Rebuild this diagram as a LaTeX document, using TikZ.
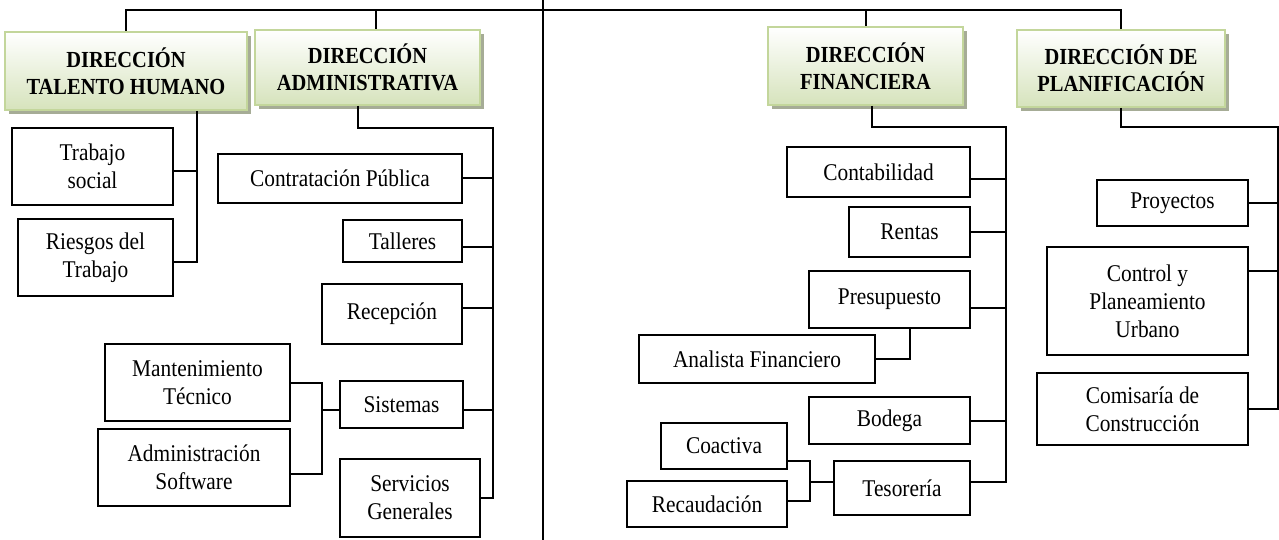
\documentclass[tikz,border=0pt]{standalone}
\usepackage{fontspec}
\setmainfont{Liberation Serif}[FakeStretch=0.89]
\usepackage{tikz}
\usetikzlibrary{shadows}
\definecolor{headline}{RGB}{195,214,155}
\definecolor{headfill}{RGB}{214,227,188}
\definecolor{headshadow}{RGB}{166,172,150}
\tikzset{%
    direccion/.style={
      rectangle,
      draw=headline,
      line width=2pt,
      top color=white,
      bottom color=headfill,
      drop shadow={shadow xshift=4pt, shadow yshift=-4pt, fill=headshadow, opacity=1},
      align=center,
      inner sep=0pt,
      font=\fontsize{23}{27}\selectfont\bfseries
    },
    unidad/.style={
      rectangle,
      draw,
      line width=2pt,
      fill=white,
      align=center,
      inner sep=0pt,
      font=\fontsize{24}{28}\selectfont
    },
    enlace/.style={
      line width=2pt
    }
  }

\begin{document}
\begin{tikzpicture}[x=1pt, y=-1pt]
      \useasboundingbox (0,0) rectangle (1279,540);

      \node [direccion, minimum width=242, minimum height=78] (tal) at (126,71) {DIRECCIÓN\\TALENTO HUMANO};
      \node [direccion, minimum width=225, minimum height=75] (adm) at (367.5,67.5) {DIRECCIÓN\\ADMINISTRATIVA};
      \node [direccion, minimum width=195, minimum height=78] (fin) at (865.5,66) {DIRECCIÓN\\FINANCIERA};
      \node [direccion, minimum width=208, minimum height=77] (pla) at (1121,68.5) {DIRECCIÓN DE\\PLANIFICACIÓN};

      \node [unidad, minimum width=161, minimum height=77] (trab) at (92.5,166.5) {Trabajo\\social};
      \node [unidad, minimum width=155, minimum height=77] (ries) at (95.5,257.5) {Riesgos del\\Trabajo};

      \node [unidad, minimum width=244, minimum height=49] (contr) at (340,178.5) {Contratación Pública};
      \node [unidad, minimum width=119, minimum height=42] (tall) at (402.5,241) {Talleres};
      \node [unidad, minimum width=140, minimum height=60] (rec) at (392,314) {Recepción};
      \node [unidad, minimum width=123, minimum height=47] (sis) at (401.5,404.5) {Sistemas};
      \node [unidad, minimum width=140, minimum height=78] (serv) at (410,498) {Servicios\\Generales};
      \node [unidad, minimum width=185, minimum height=77] (mant) at (197.5,382.5) {Mantenimiento\\Técnico};
      \node [unidad, minimum width=192, minimum height=77] (asoft) at (194,467.5) {Administración\\Software};

      \node [unidad, minimum width=183, minimum height=50] (cont) at (878.5,172) {Contabilidad};
      \node [unidad, minimum width=121, minimum height=50] (rent) at (909.5,232) {Rentas};
      \node [unidad, minimum width=161, minimum height=57] (pres) at (889.5,299.5) {Presupuesto};
      \node [unidad, minimum width=236, minimum height=48] (anal) at (757,359) {Analista Financiero};
      \node [unidad, minimum width=161, minimum height=47] (bod) at (889.5,420.5) {Bodega};
      \node [unidad, minimum width=136, minimum height=54] (tes) at (902,488) {Tesorería};
      \node [unidad, minimum width=126, minimum height=46] (coac) at (724,446) {Coactiva};
      \node [unidad, minimum width=160, minimum height=46] (reca) at (707,504) {Recaudación};

      \node [unidad, minimum width=151, minimum height=46] (proy) at (1172.5,203) {Proyectos};
      \node [unidad, minimum width=201, minimum height=108] (ctrl) at (1147.5,301) {Control y\\Planeamiento\\Urbano};
      \node [unidad, minimum width=211, minimum height=72] (comi) at (1142.5,409) {Comisaría de\\Construcción};

      \coordinate (raiz a) at (543,0);
      \coordinate (raiz b) at (543,540);
      \coordinate (bus) at (0,10);
      \coordinate (adm top) at (376,10);
      \draw [enlace] (raiz a) -- (raiz b);
      \draw [enlace] (tal.north) |- (bus -| pla.north) -- (pla.north);
      \draw [enlace] (adm top) -- (adm top |- adm.north);
      \draw [enlace] (fin.north) -- (fin.north |- bus);

      \coordinate (tal bus) at (197,262);
      \draw [enlace] (tal bus |- tal.south) -- (tal bus) -- (tal bus -| ries.east);
      \draw [enlace] ([yshift=-4.5]trab.east) -- ([yshift=-4.5]trab.east -| tal bus);

      \coordinate (adm drop) at (358,128);
      \coordinate (adm bus) at (493,128);
      \draw [enlace] (adm drop |- adm.south) -- (adm drop) -- (adm bus) -- (adm bus |- serv.east) -- (serv.east);
      \draw [enlace] (contr.east) -- (contr.east -| adm bus);
      \draw [enlace] ([yshift=-6]tall.east) -- ([yshift=-6]tall.east -| adm bus);
      \draw [enlace] ([yshift=6]rec.east) -- ([yshift=6]rec.east -| adm bus);
      \draw [enlace] ([yshift=-5.5]sis.east) -- ([yshift=-5.5]sis.east -| adm bus);
      \coordinate (sis bus) at (322,410);
      \draw [enlace] (mant.east) -| (sis bus) |- ([yshift=-6.5]asoft.east);
      \draw [enlace] (sis bus) -- (sis bus -| sis.west);

      \coordinate (fin drop) at (872,127);
      \coordinate (fin bus) at (1006,127);
      \coordinate (tes bus) at (810,482);
      \draw [enlace] (fin drop |- fin.south) -- (fin drop) -- (fin bus) -- (fin bus |- tes bus) -- (tes bus -| tes.east);
      \draw [enlace] ([yshift=-7]cont.east) -- ([yshift=-7]cont.east -| fin bus);
      \draw [enlace] (rent.east) -- (rent.east -| fin bus);
      \draw [enlace] ([yshift=-8.5]pres.east) -- ([yshift=-8.5]pres.east -| fin bus);
      \draw [enlace] (bod.east) -- (bod.east -| fin bus);
      \draw [enlace] ([xshift=20.5]pres.south) |- (anal.east);
      \draw [enlace] ([yshift=-15]coac.east) -| (tes bus) |- ([yshift=3]reca.east);
      \draw [enlace] (tes bus) -- (tes bus -| tes.west);

      \coordinate (pla bus) at (1278,127);
      \draw [enlace] (pla.south) |- (pla bus) -- (pla bus |- comi.east) -- (comi.east);
      \draw [enlace] (proy.east) -- (proy.east -| pla bus);
      \draw [enlace] ([yshift=30]ctrl.east) -- ([yshift=30]ctrl.east -| pla bus);

    \end{tikzpicture}
\end{document}
